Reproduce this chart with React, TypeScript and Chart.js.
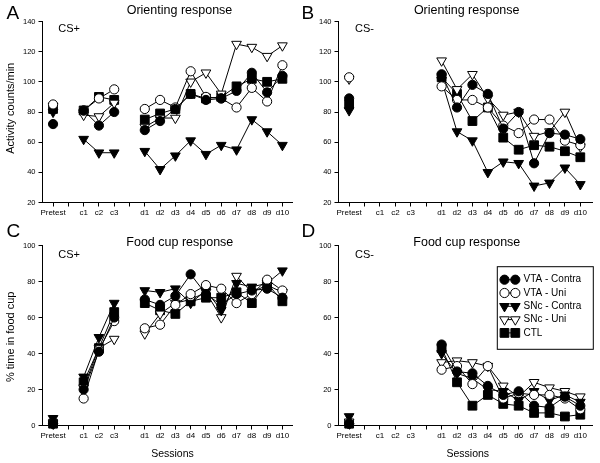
import React, { useEffect, useRef } from 'react';
import { Chart, registerables } from 'chart.js';
import { drawPoint } from 'chart.js/helpers';

Chart.register(...registerables);

const FONT = '"Liberation Sans", Arial, Helvetica, sans-serif';

const sessionLabels = ['Pretest', '', 'c1', 'c2', 'c3', '', 'd1', 'd2', 'd3', 'd4', 'd5', 'd6', 'd7', 'd8', 'd9', 'd10'];
const groupNames = ['VTA - Contra', 'VTA - Uni', 'SNc - Contra', 'SNc - Uni', 'CTL'];
const orientTicks = [20, 40, 60, 80, 100, 120, 140];
const foodTicks = [0, 20, 40, 60, 80, 100];

// A: Orienting response, CS+
const orientPlusVtaContra = [72, null, 81, 71, 80, null, 68, 74, 82, 92, 88, 89, 94, 106, 93, 104];
const orientPlusVtaUni = [85, null, 81, 89, 95, null, 82, 88, 83, 107, 90, 89, 83, 96, 87, 111];
const orientPlusSncContra = [80, null, 62, 53, 53, null, 54, 42, 51, 61, 52, 58, 55, 75, 67, 58];
const orientPlusSncUni = [84, null, 78, 77, 86, null, 70, 76, 76, 100, 106, 92, 125, 123, 117, 124];
const orientPlusCtl = [82, null, 81, 90, 88, null, 75, 79, 82, 92, 89, 90, 97, 102, 100, 102];

// B: Orienting response, CS-
const orientMinusVtaContra = [89, null, null, null, null, null, 105, 83, 98, 92, 69, 80, 46, 66, 65, 62];
const orientMinusVtaUni = [103, null, null, null, null, null, 97, 88, 88, 83, 71, 66, 75, 75, 61, 58];
const orientMinusSncContra = [81, null, null, null, null, null, 101, 67, 61, 40, 47, 46, 31, 33, 43, 32];
const orientMinusSncUni = [102, null, null, null, null, null, 114, 95, 105, 89, 78, 80, 64, 67, 80, 57];
const orientMinusCtl = [85, null, null, null, null, null, 103, 92, 74, 83, 63, 55, 58, 57, 54, 50];

// C: Food cup response, CS+
const foodPlusVtaContra = [1, null, 20, 41, 60, null, 70, 67, 72, 84, 73, 67, 73, 75, 76, 71];
const foodPlusVtaUni = [1, null, 15, 42, 58, null, 54, 56, 67, 73, 78, 76, 68, 73, 81, 75];
const foodPlusSncContra = [4, null, 27, 49, 68, null, 75, 74, 76, 68, 75, 64, 79, 77, 79, 86];
const foodPlusSncUni = [1, null, 21, 43, 48, null, 51, 62, 68, 70, 74, 60, 83, 74, 78, 74];
const foodPlusCtl = [1, null, 24, 43, 63, null, 68, 64, 62, 69, 71, 71, 74, 68, 79, 69];

// D: Food cup response, CS-
const foodMinusVtaContra = [1, null, null, null, null, null, 45, 30, 29, 22, 17, 19, 11, 10, 16, 11];
const foodMinusVtaUni = [1, null, null, null, null, null, 31, 33, 23, 33, 15, 18, 17, 17, 15, 9];
const foodMinusSncContra = [5, null, null, null, null, null, 40, 29, 26, 20, 19, 14, 19, 14, 17, 13];
const foodMinusSncUni = [2, null, null, null, null, null, 35, 36, 35, 33, 22, 16, 24, 21, 19, 16];
const foodMinusCtl = [1, null, null, null, null, null, 43, 24, 11, 17, 12, 11, 7, 7, 5, 6];

const groupStyles = [
  { pointStyle: 'circle', fill: '#000000', radius: 4.6, rotation: 0 },
  { pointStyle: 'circle', fill: '#ffffff', radius: 4.6, rotation: 0 },
  { pointStyle: 'triangle', fill: '#000000', radius: 5.6, rotation: 180 },
  { pointStyle: 'triangle', fill: '#ffffff', radius: 5.6, rotation: 180 },
  { pointStyle: 'rect', fill: '#000000', radius: 6.2, rotation: 0 },
];

type TextItem = { text: string; x: number; y: number; size: number; align?: CanvasTextAlign; rotate?: boolean; baseline?: CanvasTextBaseline };

const textPlugin = {
  id: 'panelText',
  afterDraw(chart: any, _args: any, opts: any) {
    const ctx = chart.ctx;
    const items: TextItem[] = (opts && opts.items) || [];
    ctx.save();
    ctx.fillStyle = '#000';
    for (const it of items) {
      ctx.save();
      ctx.font = `${it.size}px ${FONT}`;
      ctx.textAlign = it.align || 'left';
      ctx.textBaseline = it.baseline || 'alphabetic';
      ctx.translate(it.x, it.y);
      if (it.rotate) ctx.rotate(-Math.PI / 2);
      ctx.fillText(it.text, 0, 0);
      ctx.restore();
    }
    const lg = opts && opts.legend;
    if (lg) {
      ctx.strokeStyle = '#000';
      ctx.lineWidth = 1;
      ctx.strokeRect(lg.x0, lg.y0, lg.x1 - lg.x0, lg.y1 - lg.y0);
      groupNames.forEach((name, i) => {
        const st = groupStyles[i];
        const y = lg.firstY + i * lg.step;
        ctx.beginPath();
        ctx.moveTo(lg.m1, y);
        ctx.lineTo(lg.m2, y);
        ctx.stroke();
        ctx.fillStyle = st.fill;
        ctx.strokeStyle = '#000';
        const po = { pointStyle: st.pointStyle, rotation: st.rotation, radius: st.radius, borderWidth: 1 };
        drawPoint(ctx, po as any, lg.m1, y);
        drawPoint(ctx, po as any, lg.m2, y);
        ctx.fillStyle = '#000';
        ctx.font = `10px ${FONT}`;
        ctx.textAlign = 'left';
        ctx.textBaseline = 'middle';
        ctx.fillText(name, lg.textX, y);
      });
    }
    ctx.restore();
  },
};

type PanelProps = {
  left: number; top: number; width: number; height: number;
  padding: { left: number; right: number; top: number; bottom: number };
  yAxisWidth: number; xMin: number; xMax: number; yMin: number; yMax: number; yTicks: number[];
  series: (number | null)[][];
  texts: TextItem[];
  legend?: any;
};

function Panel(p: PanelProps) {
  const ref = useRef<HTMLCanvasElement | null>(null);
  useEffect(() => {
    if (!ref.current) return;
    const datasets = p.series.map((vals, i) => {
      const st = groupStyles[i];
      return {
        label: groupNames[i],
        data: vals.map((v, k) => ({ x: k, y: v })),
        borderColor: '#000',
        borderWidth: 1,
        backgroundColor: st.fill,
        pointStyle: st.pointStyle as any,
        pointRotation: st.rotation,
        pointRadius: st.radius,
        pointBackgroundColor: st.fill,
        pointBorderColor: '#000',
        pointBorderWidth: 1,
        spanGaps: false,
        tension: 0,
        fill: false,
        clip: false as any,
      };
    });
    const axisCommon = {
      grid: { display: true, drawOnChartArea: false, drawTicks: true, tickLength: 4, color: '#000', lineWidth: 1 },
      border: { display: true, color: '#000', width: 1 },
    };
    const chart = new Chart(ref.current, {
      type: 'line',
      data: { datasets },
      plugins: [textPlugin],
      options: {
        responsive: false,
        animation: false,
        devicePixelRatio: 1,
        layout: { padding: p.padding },
        plugins: {
          legend: { display: false },
          tooltip: { enabled: false },
          title: { display: false },
          panelText: { items: p.texts, legend: p.legend },
        } as any,
        scales: {
          x: {
            type: 'linear',
            min: p.xMin,
            max: p.xMax,
            afterBuildTicks: (s: any) => { s.ticks = sessionLabels.map((_, i) => ({ value: i })); },
            afterFit: (s: any) => { s.height = 20; },
            ticks: {
              autoSkip: false, maxRotation: 0, minRotation: 0, padding: 1,
              color: '#000', font: { family: FONT, size: 8 },
              callback: (v: any) => sessionLabels[Math.round(Number(v))] ?? '',
            },
            ...axisCommon,
          },
          y: {
            type: 'linear',
            min: p.yMin,
            max: p.yMax,
            afterBuildTicks: (s: any) => { s.ticks = p.yTicks.map((v) => ({ value: v })); },
            afterFit: (s: any) => { s.width = p.yAxisWidth; },
            ticks: { padding: 3, color: '#000', font: { family: FONT, size: 7.5 } },
            ...axisCommon,
          },
        } as any,
      },
    });
    return () => chart.destroy();
  }, []);
  return (
    <canvas
      ref={ref}
      width={p.width}
      height={p.height}
      style={{ position: 'absolute', left: p.left, top: p.top, width: p.width, height: p.height }}
    />
  );
}

export default function App() {
  return (
    <div style={{ position: 'absolute', left: 0, top: 0, width: 600, height: 463, background: '#fff', overflow: 'hidden' }}>
      <Panel
        left={0} top={0} width={300} height={231}
        padding={{ left: 0, right: 1, top: 21.5, bottom: 8.5 }}
        yAxisWidth={42.5} xMin={-0.69} xMax={15.68} yMin={20} yMax={140} yTicks={orientTicks}
        series={[orientPlusVtaContra, orientPlusVtaUni, orientPlusSncContra, orientPlusSncUni, orientPlusCtl]}
        texts={[
          { text: 'A', x: 6.5, y: 18.5, size: 19 },
          { text: 'Orienting response', x: 179.5, y: 14, size: 12.5, align: 'center' },
          { text: 'CS+', x: 58.3, y: 31.7, size: 11 },
          { text: 'Activity counts/min', x: 10.5, y: 108.3, size: 11, align: 'center', rotate: true, baseline: 'middle' },
        ]}
      />
      <Panel
        left={300} top={0} width={300} height={231}
        padding={{ left: 0, right: 3, top: 21.5, bottom: 8.5 }}
        yAxisWidth={38.5} xMin={-0.69} xMax={15.81} yMin={20} yMax={140} yTicks={orientTicks}
        series={[orientMinusVtaContra, orientMinusVtaUni, orientMinusSncContra, orientMinusSncUni, orientMinusCtl]}
        texts={[
          { text: 'B', x: 1.5, y: 18.5, size: 19 },
          { text: 'Orienting response', x: 166.7, y: 14, size: 12.5, align: 'center' },
          { text: 'CS-', x: 55, y: 31.7, size: 11 },
        ]}
      />
      <Panel
        left={0} top={212} width={300} height={251}
        padding={{ left: 0, right: 1, top: 33.5, bottom: 17.5 }}
        yAxisWidth={42.5} xMin={-0.69} xMax={15.68} yMin={0} yMax={100} yTicks={foodTicks}
        series={[foodPlusVtaContra, foodPlusVtaUni, foodPlusSncContra, foodPlusSncUni, foodPlusCtl]}
        texts={[
          { text: 'C', x: 6.5, y: 25, size: 19 },
          { text: 'Food cup response', x: 179.8, y: 34, size: 12.5, align: 'center' },
          { text: 'CS+', x: 58.3, y: 45.5, size: 11 },
          { text: '% time in food cup', x: 10.5, y: 124.8, size: 11, align: 'center', rotate: true, baseline: 'middle' },
          { text: 'Sessions', x: 172.5, y: 245, size: 10.5, align: 'center' },
        ]}
      />
      <Panel
        left={300} top={212} width={300} height={251}
        padding={{ left: 0, right: 3, top: 33.5, bottom: 17.5 }}
        yAxisWidth={38.5} xMin={-0.69} xMax={15.81} yMin={0} yMax={100} yTicks={foodTicks}
        series={[foodMinusVtaContra, foodMinusVtaUni, foodMinusSncContra, foodMinusSncUni, foodMinusCtl]}
        texts={[
          { text: 'D', x: 1.5, y: 25, size: 19 },
          { text: 'Food cup response', x: 166.8, y: 34, size: 12.5, align: 'center' },
          { text: 'CS-', x: 55, y: 45.5, size: 11 },
          { text: 'Sessions', x: 167.8, y: 245, size: 10.5, align: 'center' },
        ]}
        legend={{ x0: 197.3, y0: 54.7, x1: 293.3, y1: 137.3, firstY: 67.7, step: 13.3, m1: 204.5, m2: 215.3, textX: 223.5 }}
      />
    </div>
  );
}
